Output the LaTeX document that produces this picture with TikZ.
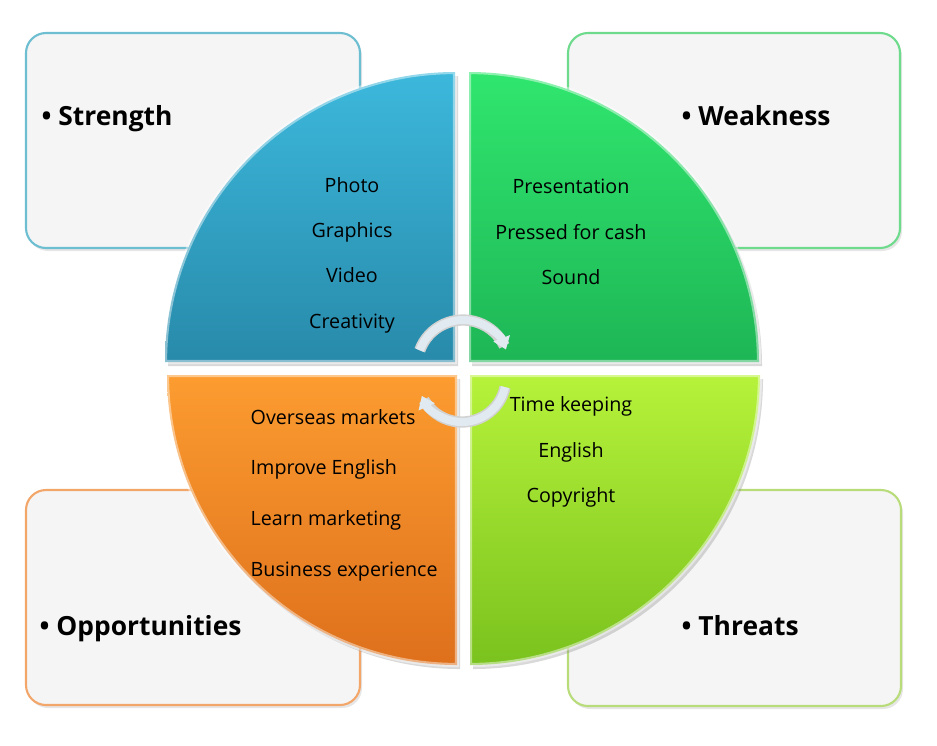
\documentclass[tikz,border=0pt]{standalone}
\usepackage{fontspec}
\setmainfont{Open Sans}
\usetikzlibrary{arrows.meta,shadows}
\definecolor{sblue}{RGB}{60,184,220}
\definecolor{sbluedk}{RGB}{40,138,170}
\definecolor{wgreen}{RGB}{48,230,110}
\definecolor{wgreendk}{RGB}{30,182,86}
\definecolor{oorange}{RGB}{252,156,48}
\definecolor{oorangedk}{RGB}{222,112,28}
\definecolor{tlime}{RGB}{182,242,58}
\definecolor{tlimedk}{RGB}{122,194,30}
\definecolor{boxfill}{RGB}{245,245,246}
\definecolor{arrowfill}{RGB}{224,234,240}
\begin{document}
\begin{tikzpicture}[x=0.01cm,y=0.01cm,
  card/.style={rounded corners=0.2cm,fill=boxfill,line width=0.6pt,
    drop shadow={opacity=0.2,shadow xshift=0.02cm,shadow yshift=-0.03cm}},
  quarter/.style={drop shadow={opacity=0.3,shadow xshift=0.03cm,shadow yshift=-0.04cm}},
  bevel/.style={draw=white,draw opacity=0.45,line width=1.2pt},
  head/.style={font=\fontsize{7.5}{9}\selectfont\bfseries,anchor=base west,inner sep=0pt},
  items/.style={font=\fontsize{5.6}{12.9}\selectfont,align=center,inner sep=0pt},
  turn/.style={line width=2.3pt,arrowfill,-{Triangle[width=0.17cm,length=0.12cm]}}]
\useasboundingbox (0,0) rectangle (937,-745);

% the four cards
\draw[card,draw={rgb,255:red,108;green,190;blue,208}] (26,-33) rectangle (360,-248);
\draw[card,draw={rgb,255:red,110;green,218;blue,140}] (568,-33) rectangle (900,-248);
\draw[card,draw={rgb,255:red,243;green,166;blue,106}] (26,-490) rectangle (360,-705);
\draw[card,draw={rgb,255:red,184;green,220;blue,122}] (568,-490) rectangle (901,-706);

\node[head] (strength) at (41,-125) {\textbullet\ Strength};
\node[head] (weakness) at (681,-125) {\textbullet\ Weakness};
\node[head] (opport) at (39,-635) {\textbullet\ Opportunities};
\node[head] (threats) at (681,-635) {\textbullet\ Threats};

% the four quarters of the circle
\path[quarter,top color=sblue,bottom color=sbluedk]
  (455,-362) -- (165,-362) arc[start angle=180,end angle=90,radius=290] -- cycle;
\path[quarter,top color=wgreen,bottom color=wgreendk]
  (469,-362) -- (469,-72) arc[start angle=90,end angle=0,radius=290] -- cycle;
\path[quarter,top color=oorange,bottom color=oorangedk]
  (457,-375) -- (457,-665) arc[start angle=270,end angle=180,radius=290] -- cycle;
\path[quarter,top color=tlime,bottom color=tlimedk]
  (470,-375) -- (760,-375) arc[start angle=0,end angle=-90,radius=290] -- cycle;

\draw[bevel] (455,-362) -- (165,-362) arc[start angle=180,end angle=90,radius=290] -- cycle;
\draw[bevel] (469,-362) -- (469,-72) arc[start angle=90,end angle=0,radius=290] -- cycle;
\draw[bevel] (457,-375) -- (457,-665) arc[start angle=270,end angle=180,radius=290] -- cycle;
\draw[bevel] (470,-375) -- (760,-375) arc[start angle=0,end angle=-90,radius=290] -- cycle;

\node[items] (sitems) at (352,-255)
{Photo\\ Graphics\\ Video\\ Creativity};
\node[items] (witems) at (571,-232)
{Presentation\\ Pressed for cash\\ Sound};
\node[items,align=left,anchor=west,font=\fontsize{5.6}{14.4}\selectfont] (oitems) at (250,-495)
{Overseas markets\\ Improve English\\ Learn marketing\\ Business experience};
\node[items] (titems) at (571,-452)
{Time keeping\\ English\\ Copyright};

% turning arrows in the middle
\draw[line width=3.2pt,gray!35] (463,-366) ++(160:46) arc[start angle=160,end angle=26,radius=46];
\draw[turn] (463,-366) ++(160:46) arc[start angle=160,end angle=21,radius=46];
\draw[line width=3.2pt,gray!35] (462,-378) ++(-12:44) arc[start angle=-12,end angle=-150,radius=44];
\draw[turn] (462,-378) ++(-12:44) arc[start angle=-12,end angle=-156,radius=44];
\end{tikzpicture}
\end{document}
